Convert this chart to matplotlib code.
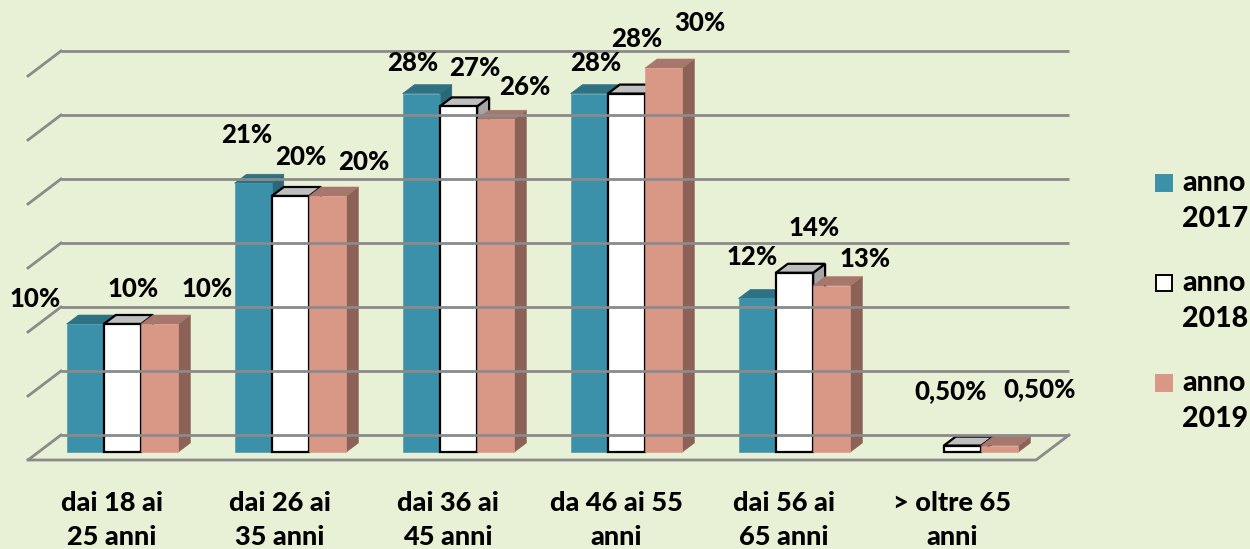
import numpy as np
import matplotlib
matplotlib.use('Agg')
from matplotlib import pyplot as plt
from matplotlib.patches import Polygon, Rectangle

categories = ['dai 18 ai\n25 anni', 'dai 26 ai\n35 anni', 'dai 36 ai\n45 anni',
              'da 46 ai 55\nanni', 'dai 56 ai\n65 anni', '> oltre 65\nanni']
anni = ['2017', '2018', '2019']
v2017 = [10, 21, 28, 28, 12, np.nan]
v2018 = [10, 20, 27, 28, 14, 0.5]
v2019 = [10, 20, 26, 30, 13, 0.5]
series = [v2017, v2018, v2019]

# label nudges in pixels (dx, dy up) from top centre of each bar
off2017 = [(-50, 25), (-6, 48), (-8, 31), (7, 31), (-5, 41), (0, 0)]
off2018 = [(11, 35), (10, 39), (16, 38), (10, 55), (20, 45), (-12, 55)]
off2019 = [(47, 35), (36, 34), (29, 32), (36, 45), (33, 27), (40, 57)]
offsets = [off2017, off2018, off2019]

# front / top / side colours, edge
faces = [('#3B91A9', '#2D7183', '#2A6878', None),
         ('#FFFFFF', '#BFBFBF', '#A5A5A5', 'black'),
         ('#D99886', '#A8776C', '#8C6256', None)]
bg = '#E8F0D6'
grid_c = '#8A8A8A'

plt.rcParams['font.family'] = ['Lato', 'DejaVu Sans']

W, H = 1250, 549
fig = plt.figure(figsize=(W / 100, H / 100), dpi=100, facecolor=bg)
# axes: x in category units (168 px each), y in percent (12.8 px each)
ax = fig.add_axes([0, (H - 460) / H, 1, 460 / H])
ax.set_facecolor(bg)
ax.set_xlim(-28 / 168, (W - 28) / 168)
ax.set_ylim(0, 460 / 12.8)
for s in ax.spines.values():
    s.set_visible(False)
ax.set_yticks([])

n = len(categories)
du_f, dv_f = 33 / 168, 25 / 12.8   # floor depth
du_b, dv_b = 12 / 168, 9 / 12.8    # bar depth
bw = 37.3 / 168
x0 = 28 / 168 + (du_f - du_b) / 2
v0 = (dv_f - dv_b) / 2

# grid / walls
for g in range(0, 31, 5):
    ax.plot([du_f, n + du_f], [g + dv_f, g + dv_f], color=grid_c, lw=2, solid_capstyle='butt')
    ax.plot([0, du_f], [g, g + dv_f], color=grid_c, lw=2)
ax.plot([0, n, n + du_f], [0, 0, dv_f], color=grid_c, lw=2, clip_on=False)


def fmt(v):
    if float(v).is_integer():
        return '%d%%' % v
    return ('%.2f%%' % v).replace('.', ',')


for i in range(n):
    for k, vals in enumerate(series):
        h = vals[i]
        if np.isnan(h):
            continue
        fc, tc, sc, ec = faces[k]
        x = i + x0 + k * bw
        lw = 1.6 if ec else 0.4
        front = [(x, v0), (x + bw, v0), (x + bw, v0 + h), (x, v0 + h)]
        top = [(x, v0 + h), (x + bw, v0 + h), (x + bw + du_b, v0 + h + dv_b), (x + du_b, v0 + h + dv_b)]
        side = [(x + bw, v0), (x + bw + du_b, v0 + dv_b), (x + bw + du_b, v0 + h + dv_b), (x + bw, v0 + h)]
        for pts, c in ((side, sc), (top, tc), (front, fc)):
            ax.add_patch(Polygon(pts, closed=True, facecolor=c, edgecolor=ec or c, lw=lw,
                                 joinstyle='miter', clip_on=False))
        dx, dy = offsets[k][i]
        ax.annotate(fmt(h), (x + bw / 2, v0 + h), xytext=(dx, dy), textcoords='offset pixels',
                    ha='center', va='center', fontsize=18.5, fontweight='black')

ax.set_xticks(np.arange(n) + 0.5)
ax.set_xticklabels(categories, fontsize=19.5, fontweight='black', linespacing=1.5)
ax.tick_params(axis='x', length=0, pad=22)

# legend
for k, yr in enumerate(anni):
    fc, tc, sc, ec = faces[k]
    yc = 183 + 100 * k
    fig.add_artist(Rectangle((1156 / W, 1 - (yc + 8) / H), 16 / W, 16 / H, transform=fig.transFigure,
                             facecolor=fc, edgecolor=ec or fc, lw=1.4))
    fig.text(1182 / W, 1 - (yc + 18) / H, 'anno\n' + yr, ha='left', va='center',
             fontsize=20.5, fontweight='black', linespacing=1.5)

fig.savefig('out.png', dpi=100, facecolor=bg)
